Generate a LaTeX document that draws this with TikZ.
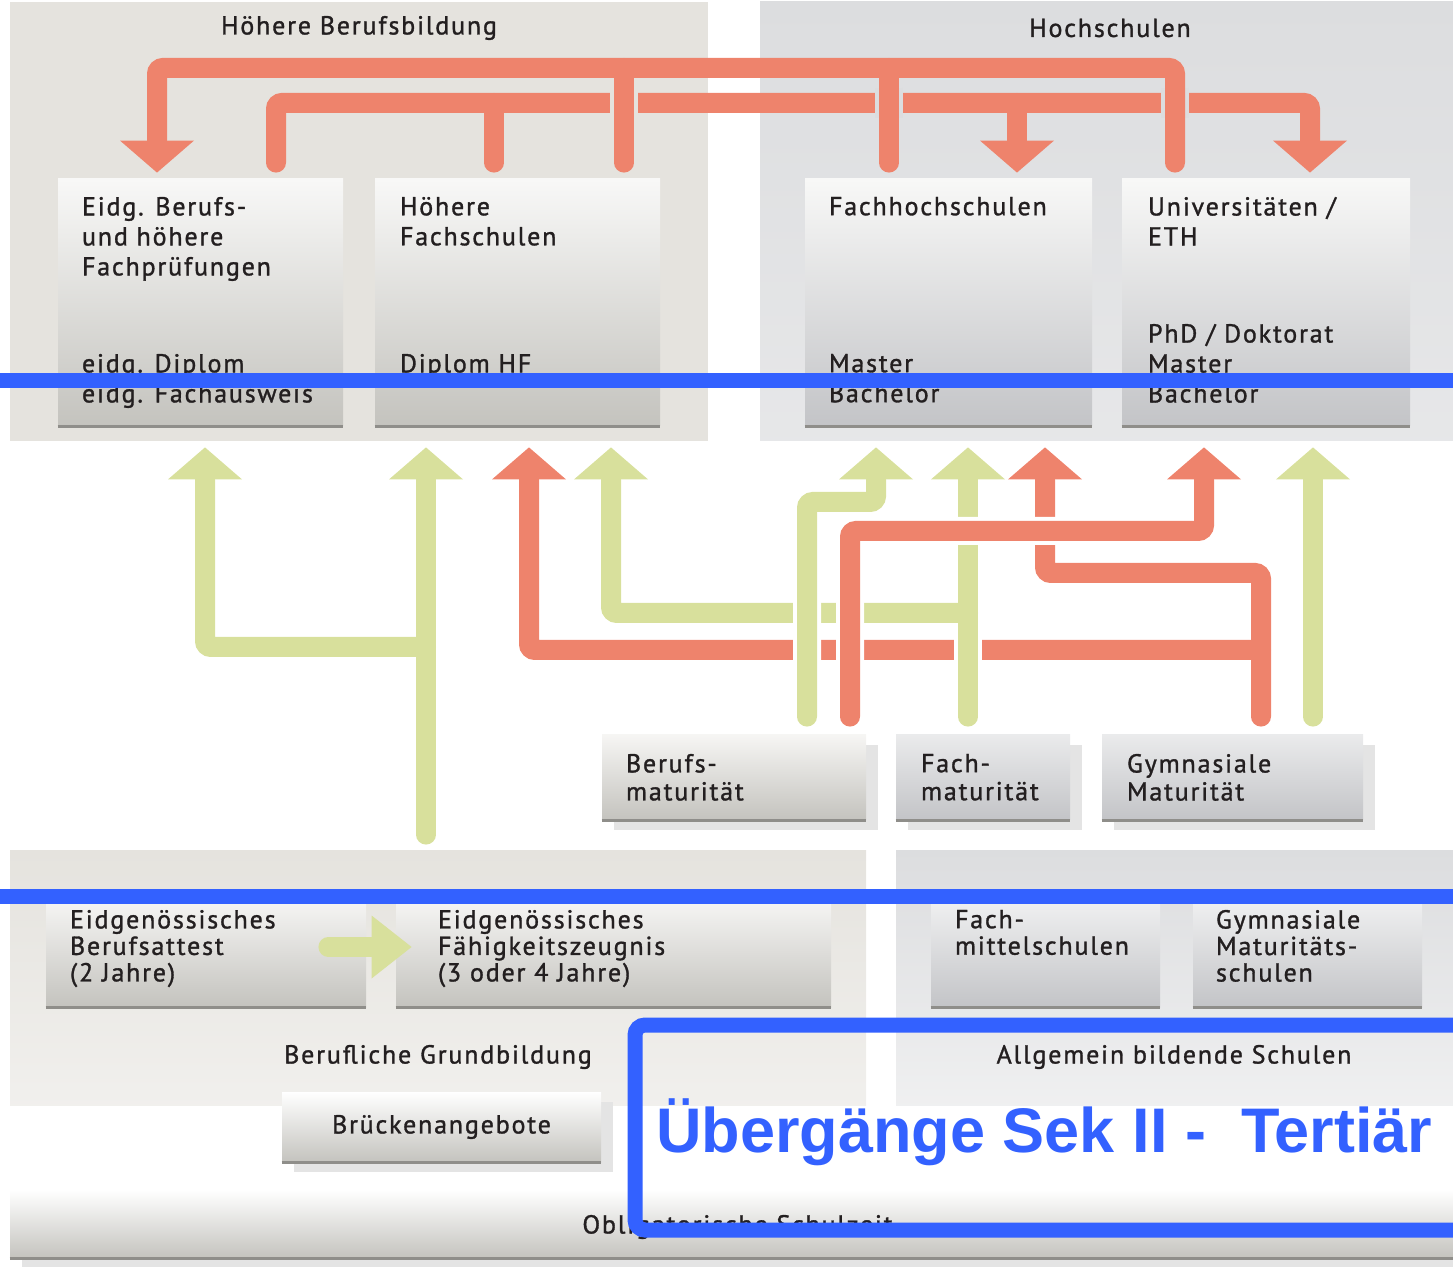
\documentclass[tikz,border=0pt]{standalone}
\usepackage{fontspec}
\setmainfont{PT Sans}[LetterSpace=7, FakeBold=1.2]
\newfontfamily\markfont{Liberation Sans}
\usepackage{tikz}
\usetikzlibrary{arrows.meta,fit,shadows,positioning}

\definecolor{hbcol}{HTML}{E5E3DE}
\definecolor{hscol}{HTML}{DCDDDF}
\definecolor{flowred}{HTML}{EE836C}
\definecolor{flowgreen}{HTML}{D8E09C}
\definecolor{markblue}{HTML}{3361FF}
\definecolor{ink}{HTML}{231F20}
\definecolor{rimcol}{HTML}{8F8E8A}
\definecolor{shadowgrey}{HTML}{E4E4E4}
\definecolor{boxtop}{HTML}{F8F8F7}
\definecolor{boxbeige}{HTML}{C4C3BE}
\definecolor{boxgrey}{HTML}{C3C4C7}

\tikzset{
  panel/.style={inner sep=0pt},
  bbox/.style={inner sep=0pt, top color=boxtop, bottom color=boxbeige},
  gbox/.style={inner sep=0pt, top color=boxtop, bottom color=boxgrey},
  shadowed/.style={drop shadow={shadow xshift=6pt, shadow yshift=-5pt, fill=shadowgrey, opacity=1}},
  boxrim/.style={draw=rimcol, line width=1.5pt},
  txt/.style={anchor=north west, inner sep=0pt, align=left, text=ink, font=\fontsize{13}{15}\selectfont},
  head/.style={inner sep=0pt, text=ink, font=\fontsize{13}{15}\selectfont},
  flow/.style={line width=10pt, line cap=round, rounded corners=3pt},
  arrowtip/.style={-{Triangle[width=37pt,length=16pt,line width=0pt]}, shorten >=3pt},
  src/.style={shorten <=#1}, src/.default=9pt,
  snk/.style={shorten >=8pt},
  bridge/.style={preaction={draw=white, line width=14pt, -, shorten <=12pt, shorten >=20pt}}
}

\begin{document}
\begin{tikzpicture}[x=0.5pt,y=-0.5pt]
\useasboundingbox (0,0) rectangle (1453,1267);
\clip (0,0) rectangle (1453,1267);

%% upper panels
\node[panel, fill=hbcol, fit={(10,2) (708,441)}] (hbpanel) {};
\node[panel, top color=hscol, bottom color=hscol!70!white, fit={(760,2) (1460,441)}] (hspanel) {};
\node[head] (hbtitle) at (359,28) {Höhere Berufsbildung};
\node[head] (hstitle) at (1110,28) {Hochschulen};

%% tertiary boxes
\node[bbox, fit={(58,179) (343,426)}] (eidg) {};
\node[bbox, fit={(375,179) (660,426)}] (hf) {};
\node[gbox, fit={(805,179) (1092,426)}] (fh) {};
\node[gbox, fit={(1122,179) (1410,426)}] (uni) {};
\foreach \n in {eidg,hf,fh,uni} \draw[boxrim] (\n.south west) -- (\n.south east);

\node[txt, below right=9pt and 12pt of eidg.north west] (eidgtop) {Eidg. Berufs-\\und höhere\\Fachprüfungen};
\node[txt, below right=87.5pt and 12pt of eidg.north west] (eidgbot) {eidg. Diplom\\eidg. Fachausweis};
\node[txt, below right=9pt and 12.5pt of hf.north west] (hftop) {Höhere\\Fachschulen};
\node[txt, below right=87.5pt and 12.5pt of hf.north west] (hfbot) {Diplom HF};
\node[txt, below right=9pt and 12pt of fh.north west] (fhtop) {Fachhochschulen};
\node[txt, below right=87.5pt and 12pt of fh.north west] (fhbot) {Master\\Bachelor};
\node[txt, below right=9pt and 13pt of uni.north west] (unitop) {Universitäten /\\ETH};
\node[txt, below right=72.5pt and 13pt of uni.north west] (unibot) {PhD / Doktorat\\Master\\Bachelor};

%% maturities
\node[bbox, shadowed, top color=hbcol!35!white, fit={(602,735) (866,820)}] (bm) {};
\node[gbox, shadowed, top color=hscol!60!white, fit={(896,735) (1070,820)}] (fm) {};
\node[gbox, shadowed, top color=hscol!60!white, fit={(1102,735) (1363,820)}] (gm) {};
\foreach \n in {bm,fm,gm} \draw[boxrim] (\n.south west) -- (\n.south east);
\node[txt, font=\fontsize{13}{14}\selectfont, below right=9.5pt and 12pt of bm.north west] (bmtxt) {Berufs-\\maturität};
\node[txt, font=\fontsize{13}{14}\selectfont, below right=9.5pt and 12.5pt of fm.north west] (fmtxt) {Fach-\\maturität};
\node[txt, font=\fontsize{13}{14}\selectfont, below right=9.5pt and 12.5pt of gm.north west] (gmtxt) {Gymnasiale\\Maturität};

%% lower panels
\node[panel, top color=hbcol, bottom color=hbcol!55!white, fit={(10,850) (866,1105)}] (grund) {};
\node[panel, top color=hscol, bottom color=hscol!45!white, fit={(896,850) (1460,1105)}] (allg) {};

%% upper flows: lower line first
\draw[flow, flowred, src=8pt, arrowtip] (276,0 |- eidg.north) -- (276,103) -- (1310,103) -- (1310,0 |- uni.north);
\draw[flow, flowred, snk] (494,103) -- (494,0 |- hf.north);
\draw[flow, flowred, arrowtip] (1017,103) -- (1017,0 |- fh.north);
\foreach \x/\c in {624/hbcol,889/hscol,1175/hscol}
  \draw[line width=14pt, draw=\c] (\x,88) -- (\x,118);
\draw[flow, flowred, src=8pt, arrowtip] (1175,0 |- uni.north) -- (1175,68) -- (157,68) -- (157,0 |- eidg.north);
\draw[flow, flowred, snk] (624,68) -- (624,0 |- hf.north);
\draw[flow, flowred, snk] (889,68) -- (889,0 |- fh.north);

%% middle flows
\draw[flow, flowred, src, arrowtip] (1261,0 |- gm.north) -- (1261,573) -- (1045,573) -- (1045,0 |- hspanel.south);
\draw[flow, flowred, arrowtip] (1261,650) -- (529,650) -- (529,0 |- hbpanel.south);
\draw[flow, flowgreen, src, arrowtip, bridge] (968,0 |- fm.north) -- (968,0 |- hspanel.south);
\draw[flow, flowgreen, arrowtip] (968,613) -- (611,613) -- (611,0 |- hbpanel.south);
\draw[flow, flowgreen, src, arrowtip, bridge] (807,0 |- bm.north) -- (807,502) -- (876,502) -- (876,0 |- hspanel.south);
\draw[flow, flowred, src, arrowtip, bridge] (850,0 |- bm.north) -- (850,531) -- (1204,531) -- (1204,0 |- hspanel.south);
\draw[flow, flowgreen, src, arrowtip] (1313,0 |- gm.north) -- (1313,0 |- hspanel.south);
\draw[flow, flowgreen, src=7.5pt, arrowtip] (426,0 |- grund.north) -- (426,0 |- hbpanel.south);
\draw[flow, flowgreen, arrowtip] (426,647) -- (205,647) -- (205,0 |- hbpanel.south);

%% secondary boxes
\node[bbox, top color=hbcol!30!white, fit={(46,897) (366,1007)}] (eba) {};
\node[bbox, top color=hbcol!30!white, fit={(396,897) (831,1007)}] (efz) {};
\node[gbox, top color=hscol!40!white, fit={(931,897) (1160,1007)}] (fms) {};
\node[gbox, top color=hscol!40!white, fit={(1193,897) (1422,1007)}] (gms) {};
\foreach \n in {eba,efz,fms,gms} \draw[boxrim] (\n.south west) -- (\n.south east);
\node[txt, font=\fontsize{13}{13.25}\selectfont, below right=6.5pt and 12pt of eba.north west] (ebatxt) {Eidgenössisches\\Berufsattest\\(2 Jahre)};
\node[txt, font=\fontsize{13}{13.25}\selectfont, below right=6.5pt and 21pt of efz.north west] (efztxt) {Eidgenössisches\\Fähigkeitszeugnis\\(3 oder 4 Jahre)};
\node[txt, font=\fontsize{13}{13.25}\selectfont, below right=6.5pt and 12pt of fms.north west] (fmstxt) {Fach-\\mittelschulen};
\node[txt, font=\fontsize{13}{13.25}\selectfont, below right=6.5pt and 11.5pt of gms.north west] (gmstxt) {Gymnasiale\\Maturitäts-\\schulen};
\draw[flow, flowgreen, -{Triangle[width=31.5pt,length=20pt,line width=0pt]}] ([xshift=-19pt,yshift=2.5pt]eba.east) -- ([xshift=8pt,yshift=2.5pt]efz.west);

\node[head] (grundtxt) at (438,1057) {Berufliche Grundbildung};
\node[head] (allgtxt) at (1174,1057) {Allgemein bildende Schulen};

%% bridge offers and compulsory school
\node[bbox, shadowed, top color=white, fit={(282,1092) (601,1162)}] (bruecke) {};
\draw[boxrim] (bruecke.south west) -- (bruecke.south east);
\node[head] (bruecketxt) at (bruecke.center) {Brückenangebote};
\node[bbox, shadowed, top color=white, fit={(10,1190) (1460,1258)}] (oblig) {};
\draw[boxrim] (oblig.south west) -- (oblig.south east);
\node[head, anchor=west] (obligtxt) at (582,1227) {Obligatorische Schulzeit};

%% blue marks
\draw[markblue, line width=7.5pt] (0,381) -- (1460,381);
\draw[markblue, line width=7.5pt] (0,896) -- (1460,896);
\draw[markblue, line width=7.5pt, rounded corners=5pt] (635,1025) rectangle (1500,1230);
\node[anchor=base west, inner sep=0pt, text=markblue, font=\markfont\bfseries\fontsize{31.5}{36}\selectfont] (marktxt) at (656,1152) {Übergänge Sek II -\ \ Tertiär};

\end{tikzpicture}
\end{document}
